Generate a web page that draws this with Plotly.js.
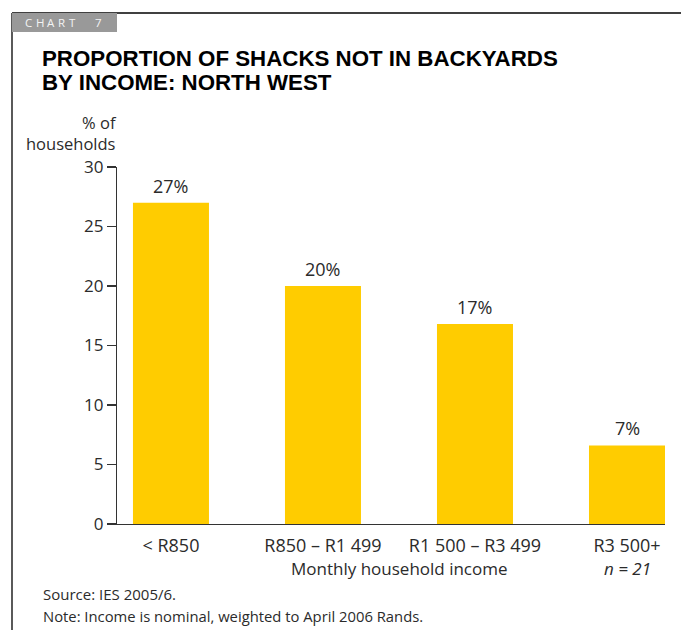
<!DOCTYPE html>
<html>
<head>
<meta charset="utf-8">
<script src="https://cdn.plot.ly/plotly-3.0.1.min.js"></script>
<style>
html,body{margin:0;padding:0;background:#fff;}
#chart{width:681px;height:630px;}
</style>
</head>
<body>
<div id="chart"></div>
<script>
// ---- Data ----
const categories = ["< R850", "R850 \u2013 R1 499", "R1 500 \u2013 R3 499", "R3 500+"];
const values = [27, 20, 16.8, 6.6];
const valueLabels = ["27%", "20%", "17%", "7%"];
const yTickVals = [0, 5, 10, 15, 20, 25, 30];
const sampleNote = "n = 21";
const chartLabel = ["C", "H", "A", "R", "T", "7"];

// ---- Layout geometry (pixels) ----
const W = 681, H = 630;
const L = 117, R = 665, T = 167, B = 524;
const px = x => (x - L) / (R - L);
const py = y => (B - y) / (B - T);
const FONT = "'Open Sans', 'Noto Sans', sans-serif";
const TITLE_FONT = "'Liberation Sans Narrow', 'Arial Narrow', 'Liberation Sans', sans-serif";
const TXT = "#2b2b2b";
const labelX = [28.5, 39.5, 50.5, 61.5, 72.5, 98.5];

const trace = {
  type: "bar",
  x: categories,
  y: values,
  width: 0.5,
  marker: {color: "#FFCC00", line: {width: 0}},
  hoverinfo: "skip"
};

const annotations = [];
// value labels above bars
categories.forEach((c, i) => {
  annotations.push({
    x: c, y: values[i], xref: "x", yref: "y",
    text: valueLabels[i], showarrow: false,
    yanchor: "bottom", yshift: 3,
    font: {family: FONT, size: 18, color: TXT}
  });
});
// n = 21 under last category
annotations.push({
  x: categories[3], y: py(568), xref: "x", yref: "paper",
  text: "<i>" + sampleNote + "</i>", showarrow: false,
  yanchor: "middle",
  font: {family: FONT, size: 17, color: TXT}
});
// x-axis title
annotations.push({
  x: px(399), y: py(568), xref: "paper", yref: "paper",
  text: "Monthly household income", showarrow: false,
  xanchor: "center", yanchor: "middle",
  font: {family: FONT, size: 17, color: TXT}
});
// y-axis title
annotations.push({
  x: px(119), y: py(133), xref: "paper", yref: "paper",
  text: "% of<br>households", showarrow: false, align: "right",
  xanchor: "right", yanchor: "middle",
  font: {family: FONT, size: 16.5, color: TXT}
});
// Title lines
annotations.push({
  x: px(40), y: py(59), xref: "paper", yref: "paper",
  text: "<b>PROPORTION OF SHACKS NOT IN BACKYARDS</b>", showarrow: false,
  xanchor: "left", yanchor: "middle",
  font: {family: TITLE_FONT, size: 22.3, color: "#000"}
});
annotations.push({
  x: px(40), y: py(83), xref: "paper", yref: "paper",
  text: "<b>BY INCOME: NORTH WEST</b>", showarrow: false,
  xanchor: "left", yanchor: "middle",
  font: {family: TITLE_FONT, size: 22.3, color: "#000"}
});
// Chart label (letter-spaced)
chartLabel.forEach((ch, i) => {
  annotations.push({
    x: px(labelX[i]), y: py(22.5), xref: "paper", yref: "paper",
    text: ch, showarrow: false,
    xanchor: "center", yanchor: "middle",
    font: {family: FONT, size: 11.5, color: "#f4f4f4"}
  });
});
// Source / note
annotations.push({
  x: px(41), y: py(594), xref: "paper", yref: "paper",
  text: "Source: IES 2005/6.", showarrow: false,
  xanchor: "left", yanchor: "middle",
  font: {family: FONT, size: 15, color: TXT}
});
annotations.push({
  x: px(41), y: py(616), xref: "paper", yref: "paper",
  text: "Note: Income is nominal, weighted to April 2006 Rands.", showarrow: false,
  xanchor: "left", yanchor: "middle",
  font: {family: FONT, size: 14.8, color: TXT}
});

const shapes = [
  // frame: left and top rules
  {type: "line", xref: "paper", yref: "paper", x0: px(12), x1: px(12), y0: py(13), y1: py(632),
   line: {color: "#000", width: 1.3}},
  {type: "line", xref: "paper", yref: "paper", x0: px(12), x1: px(682), y0: py(13), y1: py(13),
   line: {color: "#000", width: 1.3}},
  // chart label box
  {type: "rect", xref: "paper", yref: "paper", x0: px(12), x1: px(117), y0: py(13), y1: py(32),
   fillcolor: "#999999", line: {width: 0}}
];

const layout = {
  width: W, height: H,
  margin: {l: L, r: W - R, t: T, b: H - B, pad: 0},
  paper_bgcolor: "#fff", plot_bgcolor: "#fff",
  showlegend: false,
  bargap: 0.5,
  xaxis: {
    type: "category",
    range: [-0.355, 3.25],
    showline: true, linecolor: "#333", linewidth: 1.2,
    ticks: "", showgrid: false, zeroline: false,
    ticklabelstandoff: 5,
    tickfont: {family: FONT, size: 18, color: TXT},
    fixedrange: true
  },
  yaxis: {
    range: [0, 30],
    tickvals: yTickVals,
    showline: true, linecolor: "#333", linewidth: 1.2,
    ticks: "outside", ticklen: 9, tickwidth: 1.2, tickcolor: "#333",
    showgrid: false, zeroline: false,
    tickfont: {family: FONT, size: 17, color: TXT},
    fixedrange: true
  },
  annotations: annotations,
  shapes: shapes
};

Plotly.newPlot("chart", [trace], layout, {displayModeBar: false, staticPlot: true});
</script>
</body>
</html>
